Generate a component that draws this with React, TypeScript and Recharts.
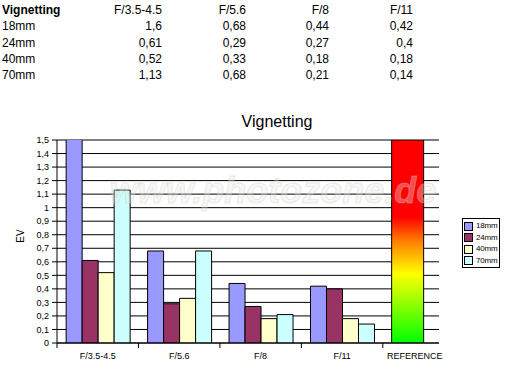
import { BarChart, Bar, XAxis, YAxis, CartesianGrid } from "recharts";

const categories = ["F/3.5-4.5", "F/5.6", "F/8", "F/11"];
const seriesNames = ["18mm", "24mm", "40mm", "70mm"];
const v18 = [1.6, 0.68, 0.44, 0.42];
const v24 = [0.61, 0.29, 0.27, 0.4];
const v40 = [0.52, 0.33, 0.18, 0.18];
const v70 = [1.13, 0.68, 0.21, 0.14];
const refLabel = "REFERENCE";
const refValue = 1.5;
const yTicks = [0, 0.1, 0.2, 0.3, 0.4, 0.5, 0.6, 0.7, 0.8, 0.9, 1, 1.1, 1.2, 1.3, 1.4, 1.5];

const COLORS = ["#9999ff", "#993366", "#ffffcc", "#ccffff"];
const FONT = '"Liberation Sans", Arial, sans-serif';
const keys = ["s18", "s24", "s40", "s70"];
const allValues = [v18, v24, v40, v70];

// x is the category slot (centre of each group), reference sits in a narrower last slot
const rows: any[] = categories.map((c, i) => ({
  x: i + 0.5, name: c, s18: v18[i], s24: v24[i], s40: v40[i], s70: v70[i],
}));
rows.push({ x: 4.3, name: refLabel, refv: refValue });

const X_MAX = 4.69;
const UNIT = 382 / X_MAX;

const comma = (v: number) => String(v).replace(".", ",");

function CatTick(props: any) {
  const { x, y, payload } = props;
  const i = Math.round(payload.value);
  const label = i < 4 ? categories[i] : refLabel;
  const dx = i < 4 ? UNIT / 2 : 32;
  return (
    <text x={x + dx} y={y + 9} textAnchor="middle" fontSize={9} fill="#000" fontFamily={FONT}>
      {label}
    </text>
  );
}

function Table() {
  const colRight = [162, 246, 329, 413];
  const rowY = [3, 19, 36, 52, 68];
  const cell = { position: "absolute" as const, fontSize: 12, lineHeight: "14px", whiteSpace: "nowrap" as const };
  return (
    <div style={{ position: "absolute", left: 0, top: 0, width: 529, fontFamily: FONT }}>
      <div style={{ ...cell, left: 2, top: rowY[0], fontWeight: "bold" }}>Vignetting</div>
      {categories.map((c, j) => (
        <div key={c} style={{ ...cell, right: 529 - colRight[j], top: rowY[0], textAlign: "right" }}>{c}</div>
      ))}
      {seriesNames.map((s, i) => (
        <div key={s}>
          <div style={{ ...cell, left: 2, top: rowY[i + 1] }}>{s}</div>
          {allValues[i].map((v, j) => (
            <div key={j} style={{ ...cell, right: 529 - colRight[j], top: rowY[i + 1], textAlign: "right" }}>{comma(v)}</div>
          ))}
        </div>
      ))}
    </div>
  );
}

function LegendBox() {
  return (
    <div style={{
      position: "absolute", left: 462, top: 218, width: 36, height: 48,
      border: "1px solid #000", background: "#fff", fontFamily: FONT, fontSize: 8,
    }}>
      {seriesNames.map((s, i) => (
        <div key={s} style={{ position: "absolute", left: 1, top: 2 + i * 11.5, height: 10, display: "flex", alignItems: "center" }}>
          <div style={{ width: 7, height: 7, background: COLORS[i], border: "1px solid #000" }} />
          <span style={{ marginLeft: 3, lineHeight: "10px", letterSpacing: -0.2 }}>{s}</span>
        </div>
      ))}
    </div>
  );
}

export default function App() {
  return (
    <div style={{ position: "absolute", left: 0, top: 0, width: 529, height: 376, background: "#fff", overflow: "hidden" }}>
      <Table />
      <div style={{ position: "absolute", left: 0, top: 0 }}>
        <BarChart width={529} height={376} data={rows} barGap={0}
          margin={{ top: 140, right: 90, left: 0, bottom: 0 }}>
          <defs>
            <linearGradient id="refGrad" x1="0" y1="0" x2="0" y2="1">
              <stop offset="0%" stopColor="#ff0000" />
              <stop offset="38%" stopColor="#ff0000" />
              <stop offset="50%" stopColor="#ff8000" />
              <stop offset="66%" stopColor="#ffff00" />
              <stop offset="100%" stopColor="#00ff00" />
            </linearGradient>
          </defs>
          <CartesianGrid vertical={false} stroke="#000" strokeWidth={1} />
          <XAxis xAxisId="main" dataKey="x" type="number" domain={[0, X_MAX]} ticks={[0, 1, 2, 3, 4]}
            allowDataOverflow height={33} stroke="#000" tickSize={5} tick={<CatTick />} interval={0} />
          <XAxis xAxisId="refAxis" dataKey="x" type="number" domain={[0, X_MAX]} ticks={[0, 1, 2, 3, 4]}
            allowDataOverflow hide />
          <YAxis type="number" domain={[0, 1.5]} ticks={yTicks} interval={0} allowDataOverflow width={57}
            stroke="#000" tickSize={5} tickMargin={3} tickFormatter={comma}
            tick={{ fontSize: 9, fill: "#000", fontFamily: FONT }} />
          {keys.map((k, i) => (
            <Bar key={k} xAxisId="main" dataKey={k} name={seriesNames[i]} fill={COLORS[i]} stroke="#000"
              strokeWidth={1} barSize={16} isAnimationActive={false} />
          ))}
          <Bar xAxisId="refAxis" dataKey="refv" name={refLabel} fill="url(#refGrad)" stroke="#000"
            strokeWidth={1} barSize={32} isAnimationActive={false} />
        </BarChart>
      </div>
      <svg width={529} height={376} style={{ position: "absolute", left: 0, top: 0, pointerEvents: "none" }}>
        <text x={273} y={203} textAnchor="middle" fontSize={36} fontWeight="bold" fontStyle="italic"
          fontFamily={FONT} fill="#e8e8e0" fillOpacity={0.35} stroke="#c8c8c0" strokeOpacity={0.35} strokeWidth={1}>
          www.photozone.de
        </text>
        <text x={277} y={127} textAnchor="middle" fontSize={16} fontFamily={FONT} fill="#000">Vignetting</text>
        <text x={24} y={236} textAnchor="middle" fontSize={10} fontFamily={FONT} fill="#000"
          transform="rotate(-90 24 236)">EV</text>
      </svg>
      <LegendBox />
    </div>
  );
}
